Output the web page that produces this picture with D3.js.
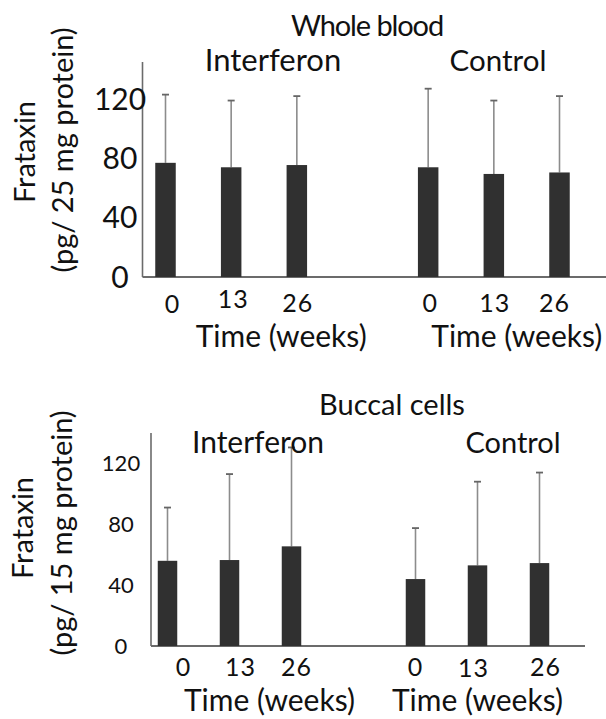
<!DOCTYPE html>
<html>
<head>
<meta charset="utf-8">
<script src="https://cdn.jsdelivr.net/npm/d3@7"></script>
<style>
  html, body { margin: 0; padding: 0; background: #fff; }
  svg { display: block; font-family: Lato, "Open Sans", sans-serif; }
</style>
</head>
<body>
<svg id="chart" width="606" height="719"></svg>
<script>
// ---- data ----
const slots = ["I0", "I13", "I26", "gap", "C0", "C13", "C26"];
const barSlots = ["I0", "I13", "I26", "C0", "C13", "C26"];
const timeLabels = ["0", "13", "26", "0", "13", "26"];
const groupNames = ["Interferon", "Control"];

const bloodTitle = "Whole blood";
const bloodMeans = [77, 74, 75.5, 74, 69.5, 70.5];
const bloodUpper = [123, 119, 122, 127, 119, 122];
const bloodTicks = [0, 40, 80, 120];
const bloodYLabel = ["Frataxin", "(pg/ 25 mg protein)"];

const buccalTitle = "Buccal cells";
const buccalMeans = [56, 56.5, 65.5, 44, 53, 54.5];
const buccalUpper = [91, 113, 130.5, 77.5, 108, 114];
const buccalTicks = [0, 40, 80, 120];
const buccalYLabel = ["Frataxin", "(pg/ 15 mg protein)"];

const xAxisTitle = "Time (weeks)";

// ---- drawing ----
const svg = d3.select("#chart");
const axisColor = "#6b6b6b";
const barColor = "#303030";
const errColor = "#8c8c8c";
const textColor = "#111";

function panel(cfg) {
  const g = svg.append("g");
  const y = d3.scaleLinear().domain([0, cfg.yMax]).range([cfg.y0, cfg.yTop]);
  const x = d3.scalePoint().domain(slots).range(cfg.xRange);

  // axes lines
  g.append("line")
    .attr("x1", cfg.axisX).attr("x2", cfg.axisX)
    .attr("y1", y(cfg.yMax)).attr("y2", y(0))
    .attr("stroke", axisColor).attr("stroke-width", 1.6);
  g.append("line")
    .attr("x1", cfg.axisX).attr("x2", cfg.baseEnd)
    .attr("y1", y(0)).attr("y2", y(0))
    .attr("stroke", axisColor).attr("stroke-width", 1.8);

  // y tick labels
  g.selectAll(".yt").data(cfg.ticks).enter().append("text")
    .attr("x", cfg.tickX)
    .attr("y", d => y(d))
    .attr("dy", "0.36em")
    .attr("text-anchor", "middle")
    .attr("font-size", cfg.tickFont)
    .attr("fill", textColor)
    .text(d => d);

  const data = barSlots.map((s, i) => ({ s, m: cfg.means[i], u: cfg.upper[i], t: timeLabels[i] }));

  // error bars
  g.selectAll(".err").data(data).enter().append("line")
    .attr("x1", d => x(d.s)).attr("x2", d => x(d.s))
    .attr("y1", d => y(d.m)).attr("y2", d => y(d.u))
    .attr("stroke", errColor).attr("stroke-width", 1.6);
  g.selectAll(".cap").data(data).enter().append("line")
    .attr("x1", d => x(d.s) - 3.5).attr("x2", d => x(d.s) + 3.5)
    .attr("y1", d => y(d.u)).attr("y2", d => y(d.u))
    .attr("stroke", "#666").attr("stroke-width", 1.8);

  // bars
  g.selectAll(".bar").data(data).enter().append("rect")
    .attr("x", d => x(d.s) - cfg.barW / 2)
    .attr("width", cfg.barW)
    .attr("y", d => y(d.m))
    .attr("height", d => y(0) - y(d.m))
    .attr("fill", barColor);

  // x tick labels
  g.selectAll(".xt").data(data).enter().append("text")
    .attr("x", (d, i) => x(d.s) + cfg.xtDx[i])
    .attr("y", (d, i) => cfg.xtY[i])
    .attr("text-anchor", "middle")
    .attr("font-size", cfg.xtFont)
    .attr("letter-spacing", 1)
    .attr("fill", textColor)
    .text(d => d.t);

  // x axis titles
  [["I13", 0], ["C13", 1]].forEach(([k, i]) => {
    g.append("text")
      .attr("x", x(k) + cfg.timeDx[i])
      .attr("y", cfg.timeY)
      .attr("text-anchor", "middle")
      .attr("font-size", cfg.timeFont)
      .attr("fill", textColor)
      .text(xAxisTitle);
  });

  // group names
  groupNames.forEach((n, i) => {
    g.append("text")
      .attr("x", cfg.groupX[i])
      .attr("y", cfg.groupY)
      .attr("text-anchor", "middle")
      .attr("font-size", cfg.groupFont[i])
      .attr("fill", textColor)
      .text(n);
  });

  // panel title
  g.append("text")
    .attr("x", cfg.titleX).attr("y", cfg.titleY)
    .attr("text-anchor", "middle")
    .attr("font-size", cfg.titleFont)
    .attr("letter-spacing", cfg.titleLS)
    .attr("fill", textColor)
    .text(cfg.title);

  // y label (two lines, rotated)
  cfg.yLabel.forEach((t, i) => {
    g.append("text")
      .attr("transform", `translate(${cfg.yLabX[i]},${cfg.yLabY[i]}) rotate(-90)`)
      .attr("text-anchor", "middle")
      .attr("font-size", cfg.yLabFont)
      .attr("fill", textColor)
      .text(t);
  });
}

panel({
  yMax: 145, y0: 277, yTop: 62,
  xRange: [165.5, 559.5], barW: 20.5,
  axisX: 142.5, baseEnd: 606,
  ticks: bloodTicks, tickX: 120, tickFont: 30,
  means: bloodMeans, upper: bloodUpper,
  xtDx: [7, 2, 1, 2, 1, -5], xtY: [313, 308, 312, 312, 312, 312], xtFont: 25,
  timeDx: [50, 23], timeY: 347, timeFont: 30,
  groupX: [273, 498], groupY: 71, groupFont: [31, 29.5],
  title: bloodTitle, titleX: 367, titleY: 36, titleFont: 29, titleLS: -1.1,
  yLabel: bloodYLabel, yLabX: [35, 73], yLabY: [152, 150], yLabFont: 29
});

panel({
  yMax: 140, y0: 646, yTop: 433,
  xRange: [167.5, 539.5], barW: 19.5,
  axisX: 151, baseEnd: 585,
  ticks: buccalTicks, tickX: 121, tickFont: 22,
  means: buccalMeans, upper: buccalUpper,
  xtDx: [16, 11, 5, 0, -4, 6], xtY: [676, 676, 676, 676, 677, 676], xtFont: 25,
  timeDx: [40, 0], timeY: 711, timeFont: 30,
  groupX: [258, 513], groupY: 453, groupFont: [30, 29],
  title: buccalTitle, titleX: 392, titleY: 415, titleFont: 29, titleLS: 0,
  yLabel: buccalYLabel, yLabX: [33, 72], yLabY: [528, 533], yLabFont: 29
});
</script>
</body>
</html>
